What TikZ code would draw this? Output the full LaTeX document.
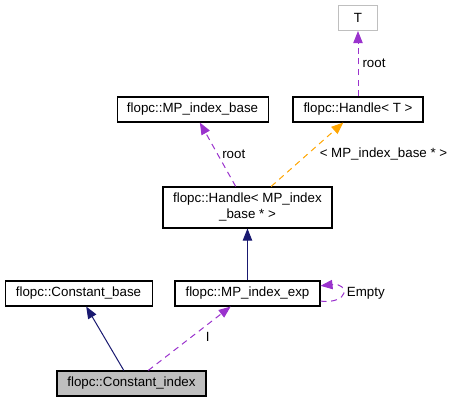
\documentclass[tikz,border=0pt]{standalone}
\usepackage{fontspec}
\setmainfont{Liberation Sans}
\usetikzlibrary{arrows.meta}
\definecolor{relpurple}{HTML}{9A32CD}
\definecolor{relorange}{HTML}{FFA500}
\definecolor{relnavy}{HTML}{191970}
\definecolor{boxgrey}{HTML}{BFBFBF}

\begin{document}
\begin{tikzpicture}[font=\fontsize{10}{12}\selectfont,
  >={Triangle[length=9pt,width=7pt]},
  cls/.style={draw=black,line width=0.8pt,fill=white,minimum height=18.75pt,inner sep=2pt,align=center},
  tmpl/.style={cls,draw=boxgrey},
  focus/.style={cls,fill=boxgrey},
  inherit/.style={draw=relnavy,line width=0.75pt},
  member/.style={draw=relpurple,line width=0.75pt,dash pattern=on 4.5pt off 3.5pt},
  inst/.style={draw=relorange,line width=0.75pt,dash pattern=on 4.5pt off 3.5pt},
  lbl/.style={right,inner sep=3pt,text=black}]
  \useasboundingbox (0pt,0pt) rectangle (339pt,-302.25pt);
  \draw (268.5pt, -13.5pt)node[tmpl, minimum width=29.25pt](0){T};
  \draw (268.5pt, -82.1pt)node[cls, minimum width=97.5pt](1){flopc::Handle\textless{} T \textgreater{}};
  \draw (144.4pt, -82.1pt)node[cls, minimum width=113.25pt](2){flopc::MP\_index\_base};
  \draw (185.6pt, -155.6pt)node[cls, minimum width=126.75pt, minimum height=30.75pt](3){flopc::Handle\textless{} MP\_index\\\_base * \textgreater{}};
  \draw (58.9pt, -220.1pt)node[cls, minimum width=110.25pt](4){flopc::Constant\_base};
  \draw (185.6pt, -220.1pt)node[cls, minimum width=108.75pt](5){flopc::MP\_index\_exp};
  \draw (98.6pt, -287.6pt)node[focus, minimum width=111.75pt](6){flopc::Constant\_index};
  \path[->] (1) edge[member] node[lbl]{root}(0);
  \path[->] (3) edge[member] node[lbl]{root}(2);
  \path[->] (3) edge[inst] node[lbl, xshift=6pt]{\textless{} MP\_index\_base * \textgreater{}}(1);
  \path[->] (5) edge[inherit] (3);
  \path[->] (5) edge[member, out=-6, in=6, looseness=1, min distance=22pt] node[lbl]{Empty}(5);
  \path[->] (6) edge[inherit] (4);
  \path[->] (6) edge[member] node[lbl, xshift=9pt, yshift=1pt]{I}(5);
\end{tikzpicture}
\end{document}
